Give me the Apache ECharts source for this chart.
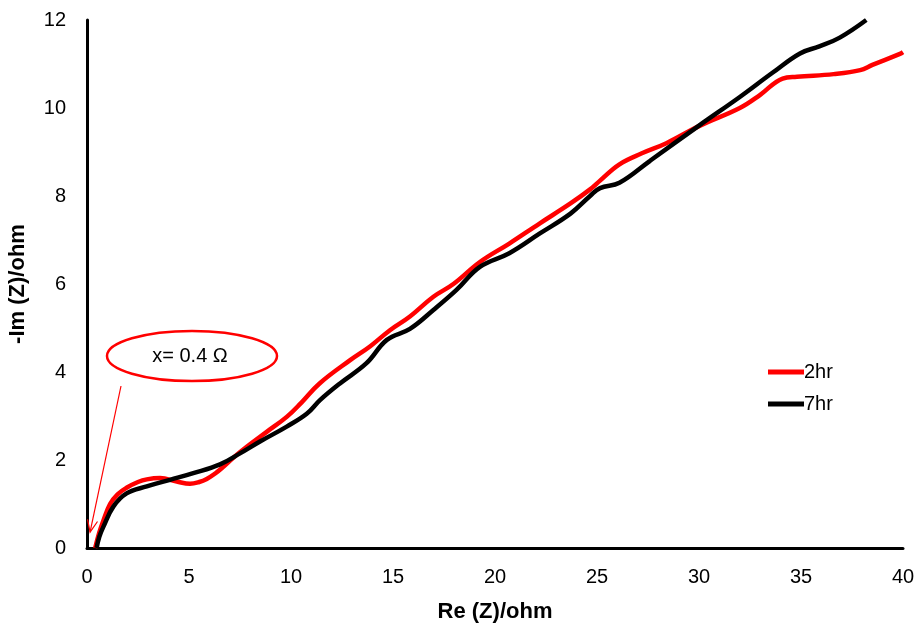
<!DOCTYPE html>
<html>
<head>
<meta charset="utf-8">
<script src="https://cdn.jsdelivr.net/npm/echarts@6/dist/echarts.min.js"></script>
<style>html,body{margin:0;padding:0;background:#fff;}#c{width:917px;height:635px;}</style>
</head>
<body>
<div id="c"></div>
<script>
const seriesNames = ['2hr', '7hr'];
const xTicks = [0, 5, 10, 15, 20, 25, 30, 35, 40];
const yTicks = [0, 2, 4, 6, 8, 10, 12];
const red2hrX = [0.4,0.6,0.8,1.13,1.5,1.94,2.5,2.93,3.58,4.4,5.05,5.5,5.87,6.3,6.67,7.17,7.83,8.81,9.79,10.5,11.4,12.9,13.87,14.85,15.83,16.98,17.96,19.26,20.7,22.2,23.7,24.66,25.15,26.1,27.2,28.4,30.05,32,33,34.1,34.8,36.6,37.9,38.5,39.85,40];
const red2hrY = [0,0.35,0.62,1.0,1.22,1.37,1.5,1.56,1.59,1.51,1.46,1.5,1.57,1.7,1.84,2.05,2.3,2.64,2.98,3.3,3.74,4.27,4.58,4.95,5.26,5.71,6.0,6.5,6.92,7.38,7.83,8.15,8.35,8.72,8.97,9.2,9.6,10.0,10.3,10.67,10.71,10.77,10.86,10.98,11.23,11.27];
const black7hrX = [0.47,0.6,0.8,1.29,1.94,2.93,4.07,5.21,6.52,7.5,8.48,9.79,10.77,11.42,12.4,13.7,14.7,15.83,16.98,18.1,19.26,20.7,22.2,23.7,24.66,25.15,26.1,27.6,30,32,33.6,34.95,35.9,36.9,38.2];
const black7hrY = [0,0.25,0.48,0.94,1.24,1.4,1.55,1.7,1.9,2.15,2.42,2.76,3.05,3.36,3.74,4.2,4.73,4.98,5.41,5.86,6.39,6.7,7.15,7.6,8.0,8.18,8.3,8.8,9.6,10.25,10.8,11.24,11.4,11.6,12.0];
const annotationText = 'x= 0.4 Ω';
const annotationTip = [0.15, 0.36];

const zip = (xs, ys) => xs.map((x, i) => [x, ys[i]]);
const chart = echarts.init(document.getElementById('c'), null, {renderer: 'canvas'});
const font = 'Arial, "Liberation Sans", sans-serif';
chart.setOption({
  animation: false,
  backgroundColor: '#fff',
  grid: {left: 87, right: 14, top: 20, bottom: 87, containLabel: false, outerBoundsMode: 'none'},
  xAxis: {
    type: 'value', min: 0, max: 40, interval: 5,
    name: 'Re (Z)/ohm', nameLocation: 'middle', nameGap: 53,
    nameTextStyle: {fontFamily: font, fontWeight: 'bold', fontSize: 22, color: '#000'},
    axisLine: {show: true, onZero: false, lineStyle: {color: '#000', width: 3}},
    axisTick: {show: false},
    splitLine: {show: false},
    axisLabel: {fontFamily: font, fontSize: 20, color: '#000', margin: 19}
  },
  yAxis: {
    type: 'value', min: 0, max: 12, interval: 2,
    name: '-Im (Z)/ohm', nameLocation: 'middle', nameGap: 58,
    nameTextStyle: {fontFamily: font, fontWeight: 'bold', fontSize: 22, color: '#000'},
    axisLine: {show: true, onZero: false, lineStyle: {color: '#000', width: 3}},
    axisTick: {show: false},
    splitLine: {show: false},
    axisLabel: {fontFamily: font, fontSize: 20, color: '#000', margin: 21}
  },
  legend: {
    orient: 'vertical', left: 763, top: 356, itemGap: 10,
    itemWidth: 36, itemHeight: 5, icon: 'rect',
    textStyle: {fontFamily: font, fontSize: 20, lineHeight: 22, color: '#000', padding: [0,0,0,-5]},
    data: seriesNames
  },
  series: [
    {name: seriesNames[0], type: 'line', data: zip(red2hrX, red2hrY), smooth: 0.4, symbol: 'none',
     lineStyle: {color: '#ff0000', width: 4.5}, itemStyle: {color: '#ff0000'}, clip: true, z: 2},
    {name: seriesNames[1], type: 'line', data: zip(black7hrX, black7hrY), smooth: 0.4, symbol: 'none',
     lineStyle: {color: '#000', width: 4.5}, itemStyle: {color: '#000'}, clip: true, z: 3}
  ]
});

const tip = chart.convertToPixel({gridIndex: 0}, annotationTip);
const ecx = 192, ecy = 356;
const tail = [121, 386];
const ang = Math.atan2(tip[1] - tail[1], tip[0] - tail[0]);
const hl = 13, ha = 0.4;
const h1 = [tip[0] - hl * Math.cos(ang - ha), tip[1] - hl * Math.sin(ang - ha)];
const h2 = [tip[0] - hl * Math.cos(ang + ha), tip[1] - hl * Math.sin(ang + ha)];
chart.setOption({
  graphic: [
    {type: 'ellipse', shape: {cx: ecx, cy: ecy, rx: 85, ry: 25}, style: {fill: '#fff', stroke: '#ff0000', lineWidth: 2.5}, z: 100},
    {type: 'text', x: ecx - 2, y: ecy, style: {text: annotationText, fontFamily: font, fontSize: 20, fill: '#000', align: 'center', verticalAlign: 'middle'}, z: 101},
    {type: 'line', shape: {x1: tail[0], y1: tail[1], x2: tip[0], y2: tip[1]}, style: {stroke: '#ff0000', lineWidth: 1.2}, z: 100},
    {type: 'polyline', shape: {points: [h1, tip, h2]}, style: {stroke: '#ff0000', lineWidth: 1.2, fill: null}, z: 100}
  ]
});
</script>
</body>
</html>
